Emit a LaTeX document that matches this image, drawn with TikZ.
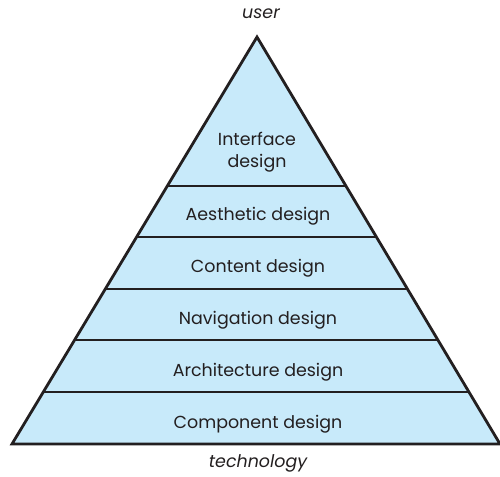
\documentclass[tikz,border=0pt]{standalone}
\usepackage{fontspec}
\setmainfont{Poppins}
\usetikzlibrary{positioning,calc}
\definecolor{pyramidBlue}{RGB}{200,234,250}
\definecolor{pyramidLine}{RGB}{35,31,32}

\begin{document}
\begin{tikzpicture}[
  x=1bp, y=-1bp,
  layer/.style={
    font=\fontsize{17.5}{22}\selectfont,
    text=pyramidLine,
    align=center,
    anchor=base,
    inner sep=0pt
  },
  tag/.style={font=\itshape\fontsize{17.5}{22}\selectfont,text=pyramidLine,anchor=base,inner sep=0pt},
  edge/.style={line width=2.8bp,pyramidLine}
]
  \useasboundingbox (0,0) rectangle (500,477);
  \coordinate (apex) at (257,37);
  \coordinate (base left) at (12,444);
  \coordinate (base right) at (500,444);
  \fill[pyramidBlue] (apex) -- (base left) -- (base right) -- cycle;
  % band borders
  \begin{scope}
    \clip (apex) -- (base left) -- (base right) -- cycle;
    \draw[edge] (0,186) -- (500,186);
    \draw[edge] (0,237) -- (500,237);
    \draw[edge] (0,289) -- (500,289);
    \draw[edge] (0,340) -- (500,340);
    \draw[edge] (0,392) -- (500,392);
  \end{scope}
  \draw[edge] (apex) -- (base left) -- (base right) -- cycle;
  \node[layer,anchor=center] (interface) at (257,152) {Interface\\design};
  \node[layer] (aesthetic) at (258,220) {Aesthetic design};
  \node[layer] (content) at (258,272) {Content design};
  \node[layer] (navigation) at (258,324) {Navigation design};
  \node[layer] (architecture) at (258,376) {Architecture design};
  \node[layer] (component) at (258,428) {Component design};
  \node[tag] (user) at (261,19) {user};
  \node[tag] (technology) at (258,467) {technology};
\end{tikzpicture}
\end{document}
